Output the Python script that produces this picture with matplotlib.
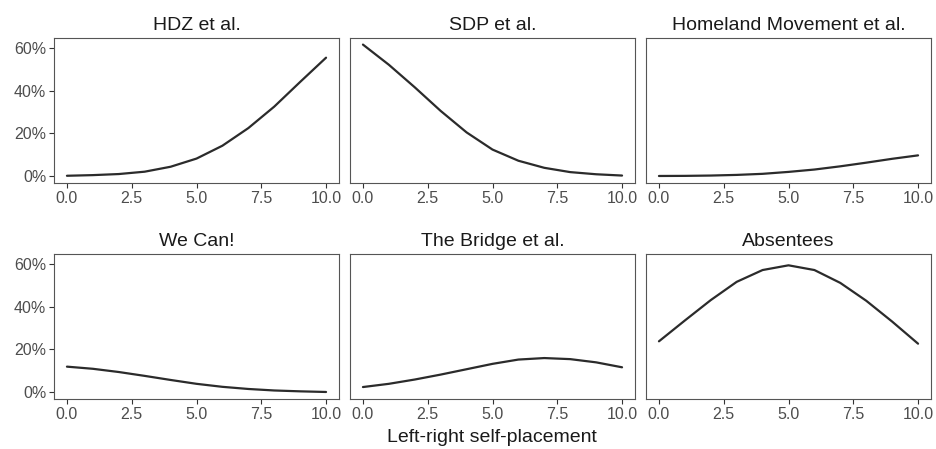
import numpy as np
import matplotlib
matplotlib.use("Agg")
import matplotlib.pyplot as plt
from matplotlib.ticker import FuncFormatter

plt.rcParams['font.family'] = ['Liberation Sans', 'DejaVu Sans']

# self-placement scale
x = list(range(11))

titles = ["HDZ et al.", "SDP et al.", "Homeland Movement et al.",
          "We Can!", "The Bridge et al.", "Absentees"]

# predicted shares in percent
hdz = [0.3, 0.6, 1.1, 2.2, 4.5, 8.3, 14.3, 22.5, 32.5, 44.0, 55.3]
sdp = [61.4, 52.0, 41.5, 30.5, 20.5, 12.5, 7.3, 4.0, 2.0, 1.0, 0.4]
homeland = [0.2, 0.25, 0.4, 0.7, 1.2, 2.1, 3.2, 4.7, 6.4, 8.2, 9.8]
we_can = [12.0, 11.0, 9.5, 7.7, 5.8, 4.0, 2.6, 1.6, 0.9, 0.5, 0.2]
bridge = [2.5, 4.0, 6.0, 8.3, 10.8, 13.3, 15.3, 16.0, 15.5, 14.0, 11.7]
absentees = [23.8, 33.5, 43.0, 51.5, 57.0, 59.2, 57.0, 51.0, 42.7, 33.0, 22.7]

series = [hdz, sdp, homeland, we_can, bridge, absentees]

fig = plt.figure(figsize=(9.36, 4.49), dpi=100)
W, H = 936, 449
lefts = [54, 350, 646]
pw = 285
tops = [38, 254]
ph = 145

ymax = max(max(s) for s in series)
ylo, yhi = -0.05 * ymax, ymax * 1.05

for i, (t, s) in enumerate(zip(titles, series)):
    r, c = divmod(i, 3)
    ax = fig.add_axes([lefts[c] / W, 1 - (tops[r] + ph) / H, pw / W, ph / H])
    ax.plot(x, s, color='#2b2b2b', lw=1.6, solid_capstyle='round')
    ax.set_xlim(-0.5, 10.5)
    ax.set_ylim(ylo, yhi)
    ax.set_xticks([0, 2.5, 5, 7.5, 10])
    ax.xaxis.set_major_formatter(FuncFormatter(lambda v, p: f"{v:.1f}"))
    ax.set_yticks([0, 20, 40, 60])
    ax.yaxis.set_major_formatter(FuncFormatter(lambda v, p: f"{v:.0f}%"))
    if c != 0:
        ax.tick_params(axis='y', left=False, labelleft=False)
    ax.tick_params(colors='#333333', labelcolor='#4d4d4d', labelsize=11.5,
                   length=3.5, width=0.8, pad=2)
    for sp in ax.spines.values():
        sp.set_color('#555555')
        sp.set_linewidth(0.8)
    ax.set_title(t, fontsize=14, color='#1a1a1a', pad=6)

fig.text(0.526, 1 - 438 / H, "Left-right self-placement", ha='center', va='center',
         fontsize=14, color='#1a1a1a')

fig.savefig("out.png", dpi=100)
